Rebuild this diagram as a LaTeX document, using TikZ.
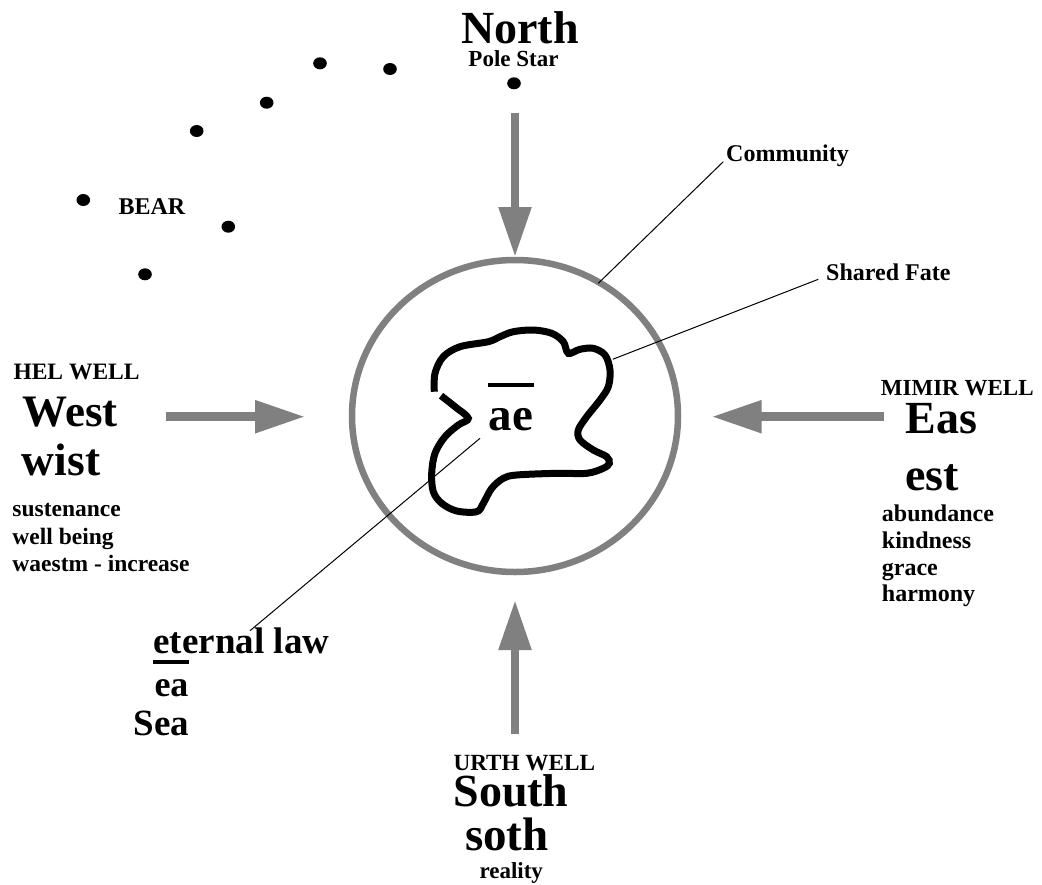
\documentclass[tikz,border=0pt]{standalone}
\usepackage{fontspec}
\setmainfont{Liberation Serif}
\usetikzlibrary{arrows.meta}

\tikzset{
	txt/.style={inner sep=0pt,anchor=base west,font=\bfseries\fontsize{#1}{#1}\selectfont},
	wind/.style={draw=gray,line width=8.5pt,-{Triangle[length=50pt,width=31pt]}},
	leader/.style={draw,line width=1pt},
}

\begin{document}
\begin{tikzpicture}[x=1pt,y=-1pt]
	\path[fill=white](0,0)rectangle(1042,884);
	\useasboundingbox(0,0)rectangle(1042,884);
	% community ring and shared fate
	\draw[gray,line width=6.5pt](515,416)ellipse[x radius=163,y radius=156];
	\draw[line width=7pt,line cap=butt,tension=0.55]plot[smooth]coordinates{
		(434.3,391.7)(435,373.3)(443.3,356.7)(460,346.7)(488.3,341.7)(500,336.7)
		(513.3,331.7)(533.3,330)(551.7,333.3)(563.3,341.7)(568.3,353.3)(580,349.3)
		(593.3,348.3)(605,355)(610,370)(608.3,386.7)(600,400)(586.7,416.7)
		(578.3,430)(580,440)(593.3,450)(606.7,456.7)(609.3,463.3)(603.3,468.3)
		(586.7,473.3)(556.7,473.3)(516.7,475)(503.3,478.3)(491.7,488.3)(483.3,503.3)
		(476.7,511.7)(456.7,511)(441.7,503.3)(433.3,491.7)(431.7,473.3)(435,453.3)
		(445,436.7)(458.3,425)(468.3,418.3)(455,406.7)(441,395.7)};
	\node[txt=47](ae)at(488.3,430){ae};
	\draw[line width=4pt]([yshift=44.7pt]ae.base west)--([yshift=44.7pt,xshift=1.3pt]ae.base east);
	% the bear
	\foreach \x/\y in {320/63.3,390/69,514/83.3,266.7/102.7,196.7/131,83.3/200,228.3/226.7,145/274.3}
		\fill(\x,\y)ellipse[x radius=6.8,y radius=6];
	\node[txt=24](bear)at(118.3,214){BEAR};
	% north
	\node[txt=46,anchor=base](north)at(520,43.3){North};
	\node[txt=23,anchor=base](pole)at(513.5,66){Pole Star};
	\coordinate(ntail)at(515,113);
	\coordinate(nhead)at(515,257);
	\draw[wind](ntail)--(nhead);
	% west
	\node[txt=23.5](hel)at(13.3,379.3){HEL WELL};
	\node[txt=45](west)at(22.7,426.7){West};
	\node[txt=45.5](wist)at(21.7,475){wist};
	\node[txt=23.5](sust)at(12.3,516.7){sustenance};
	\node[txt=23.5](wellb)at(12.3,544.2){well being};
	\node[txt=23.5](waestm)at(12.3,571.7){waestm - increase};
	\coordinate(wtail)at(166,416.7);
	\coordinate(whead)at(305,416.7);
	\draw[wind](wtail)--(whead);
	% east
	\node[txt=23](mimir)at(880.7,395){MIMIR WELL};
	\node[txt=46](eas)at(905.7,433.3){Eas};
	\node[txt=46](est)at(905,490){est};
	\node[txt=24](abund)at(881.7,521.7){abundance};
	\node[txt=24](kind)at(881.7,548.3){kindness};
	\node[txt=24](grace)at(881.7,575){grace};
	\node[txt=24](harm)at(881.7,601.7){harmony};
	\coordinate(etail)at(884,416.7);
	\coordinate(ehead)at(711.7,416.7);
	\draw[wind](etail)--(ehead);
	% south
	\node[txt=23.2](urth)at(453.3,770){URTH WELL};
	\node[txt=46](south)at(453.3,806.7){South};
	\node[txt=47](soth)at(465,850){soth};
	\node[txt=23](real)at(479.3,878.3){reality};
	\coordinate(stail)at(515,734);
	\coordinate(shead)at(515,600);
	\draw[wind](stail)--(shead);
	% eternal law
	\node[txt=37](eternal)at(153.3,653.3){eternal law};
	\draw[line width=3.5pt]([yshift=-8.5pt]eternal.base west)--++(35.7,0);
	\node[txt=36](ea)at(154.3,696.7){ea};
	\node[txt=37](sea)at(133.3,735){Sea};
	% leaders
	\node[txt=24](comm)at(726,161.7){Community};
	\node[txt=24](fate)at(826,280){Shared Fate};
	\coordinate(cring)at(598.3,283.3);
	\coordinate(cend)at(723.3,161.7);
	\coordinate(fblob)at(612.7,359.3);
	\coordinate(fend)at(818.3,279.3);
	\coordinate(lblob)at(480,438.3);
	\coordinate(lend)at(250,630.7);
	\draw[leader](cring)--(cend);
	\draw[leader](fblob)--(fend);
	\draw[leader](lblob)--(lend);
\end{tikzpicture}
\end{document}
